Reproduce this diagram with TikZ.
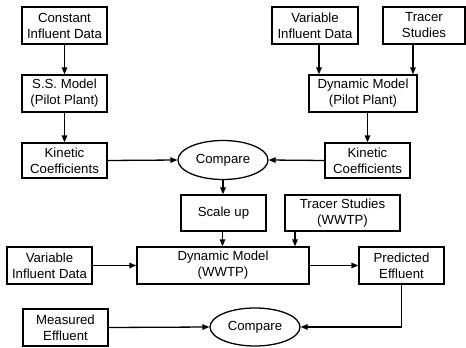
\documentclass[tikz,border=0pt]{standalone}
\usepackage{fontspec}
\setmainfont{Liberation Sans}
\usetikzlibrary{arrows.meta,shapes.geometric}
\begin{document}
\begin{tikzpicture}[x=1pt,y=-1pt,
  every node/.style={font=\fontsize{13.2}{16}\selectfont, align=center, inner sep=0pt},
  box/.style={draw, line width=1.3pt, rectangle, minimum height=37pt},
  oval/.style={draw, line width=1.3pt, ellipse, minimum width=90pt, minimum height=39pt},
  link/.style={line width=1.3pt, -{Triangle[length=7pt,width=5.5pt]}}]
\useasboundingbox (0,0) rectangle (466,348);
% pilot-plant branch, left
\node[box, minimum width=85pt] (cid) at (64.5,25.5) {Constant\\Influent Data};
\node[box, minimum width=85pt] (ssm) at (64.5,93.5) {S.S. Model\\(Pilot Plant)};
\node[box, minimum width=85pt, minimum height=35pt] (kcl) at (64.5,160.5) {Kinetic\\Coefficients};
% pilot-plant branch, right
\node[box, minimum width=86pt] (vid) at (315,25.5) {Variable\\Influent Data};
\node[box, minimum width=82pt] (tr) at (424,25.5) {Tracer\\Studies};
\node[box, minimum width=108pt] (dmp) at (363,93.5) {Dynamic Model\\(Pilot Plant)};
\node[box, minimum width=85pt, minimum height=35pt] (kcr) at (367.5,160.5) {Kinetic\\Coefficients};
\node[oval] (cmp1) at (223,160) {Compare};
% full-scale plant
\node[box, minimum width=85pt, minimum height=36pt] (su) at (223.5,213) {Scale up};
\node[box, minimum width=115pt, minimum height=36pt] (trw) at (342.5,213) {Tracer Studies\\(WWTP)};
\node[box, minimum width=172pt] (dmw) at (223,265.5) {Dynamic Model\\(WWTP)};
\node[box, minimum width=85pt] (vib) at (49.5,265.5) {Variable\\Influent Data};
\node[box, minimum width=85pt] (pe) at (401.5,265.5) {Predicted\\Effluent};
\node[box, minimum width=85pt, minimum height=37pt] (me) at (65.5,327.5) {Measured\\Effluent};
\node[oval, minimum height=38pt] (cmp2) at (255,327) {Compare};
% connectors
\draw[link] (cid) -- (ssm);
\draw[link] (ssm) -- (kcl);
\draw[link] ([xshift=4pt]vid.south) -- ([xshift=4pt]vid.south |- dmp.north);
\draw[link] ([xshift=-11pt]tr.south) -- ([xshift=-11pt]tr.south |- dmp.north);
\draw[link] (dmp.south -| kcr.north) -- (kcr.north);
\draw[link] (kcl.east) -- (cmp1.west);
\draw[link] (kcr.west) -- (cmp1.east);
\draw[link] (cmp1.south) -- (cmp1.south |- su.north);
\draw[link] ([xshift=-1pt]su.south) -- ([xshift=-1pt]su.south |- dmw.north);
\draw[link] ([xshift=-47.5pt]trw.south) -- ([xshift=-47.5pt]trw.south |- dmw.north);
\draw[link] (vib.east) -- (dmw.west);
\draw[link] (dmw.east) -- (pe.west);
\draw[link] (pe.south) |- (cmp2.east);
\draw[link] (me.east) -- (cmp2.west);
\end{tikzpicture}
\end{document}
